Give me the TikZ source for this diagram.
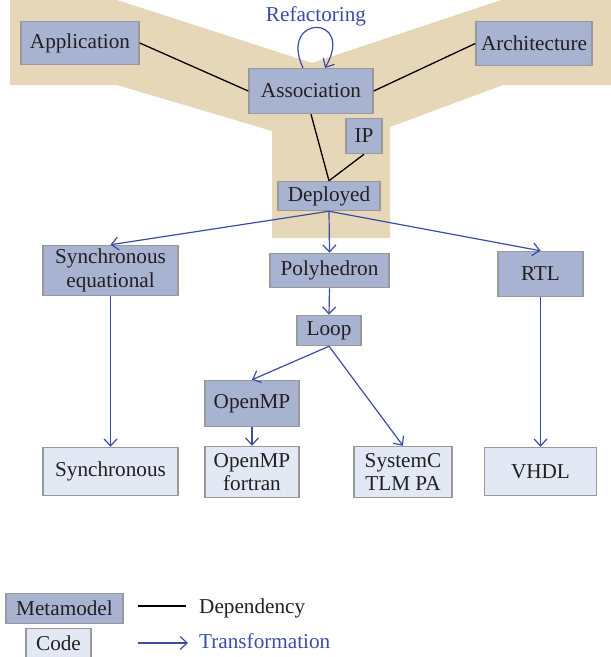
\documentclass[tikz,border=0pt]{standalone}
\usepackage{fontspec}
\setmainfont{Liberation Serif}
\usetikzlibrary{arrows.meta}
\definecolor{tan}{HTML}{E6D7B8}
\definecolor{meta}{HTML}{A8B3D1}
\definecolor{codec}{HTML}{E2E9F4}
\definecolor{bordc}{HTML}{999999}
\definecolor{blu}{HTML}{3A4CA8}
\definecolor{txt}{HTML}{231F20}
\tikzset{
  box/.style={draw=bordc, line width=1.5pt, inner sep=0pt, align=center, text=txt,
    font=\fontsize{21.2}{23.5}\selectfont},
  metabox/.style={box, fill=meta},
  codebox/.style={box, fill=codec},
  dep/.style={draw=black, line width=1.3pt},
  trans/.style={draw=blu, line width=1.2pt, -{Straight Barb[length=7pt,width=13pt,line width=1.2pt]}},
  lbl/.style={font=\fontsize{21.2}{23.5}\selectfont, inner sep=0pt}
}
\begin{document}
\begin{tikzpicture}[x=1pt,y=-1pt]
\useasboundingbox (0,0) rectangle (611,657);
% background
\fill[tan] (10,0) -- (117,0) -- (312,63) -- (501,0) -- (611,0) -- (611,85) -- (503,85)
  -- (390,127) -- (390,238) -- (272,238) -- (272,131) -- (117,85) -- (10,85) -- cycle;
% metamodel nodes
\node[metabox, minimum width=118pt, minimum height=43pt] (app) at (80,43) {Application};
\node[metabox, minimum width=124pt, minimum height=45pt] (assoc) at (311,91) {Association};
\node[metabox, minimum width=116pt, minimum height=44pt] (arch) at (534,43.5) {Architecture};
\node[metabox, minimum width=36pt, minimum height=35pt] (ip) at (364,136) {IP};
\node[metabox, minimum width=102pt, minimum height=29pt] (depl) at (329,196) {Deployed};
\node[metabox, minimum width=135pt, minimum height=50pt] (synceq) at (110.5,270.5) {Synchronous\\equational};
\node[metabox, minimum width=119pt, minimum height=34pt] (poly) at (329.5,270.5) {Polyhedron};
\node[metabox, minimum width=85pt, minimum height=45pt] (rtl) at (540.5,274) {RTL};
\node[metabox, minimum width=64pt, minimum height=30pt] (loop) at (329,330.5) {Loop};
\node[metabox, minimum width=94pt, minimum height=46pt] (openmp) at (252,403.5) {OpenMP};
% code nodes
\node[codebox, minimum width=94pt, minimum height=51pt] (ompf) at (252,472) {OpenMP\\fortran};
\node[codebox, minimum width=98pt, minimum height=51pt] (sysc) at (403,472) {SystemC\\TLM PA};
\node[codebox, minimum width=135pt, minimum height=48pt] (sync) at (110.5,471.5) {Synchronous};
\node[codebox, minimum width=112pt, minimum height=48pt] (vhdl) at (540.5,471.5) {VHDL};
% refactoring
\node[lbl, text=blu, anchor=base] (refac) at (316,21) {Refactoring};
\coordinate (rs) at (303,68);
\coordinate (re) at (325,68);
\draw[trans] (rs) .. controls (278,14) and (356,14) .. (re);
% dependencies
\draw[dep] (app.east) -- (assoc.west);
\draw[dep] (arch.west) -- (assoc.east);
\draw[dep] (assoc.south) -- (depl.north);
\draw[dep] (ip.south) -- (depl.north);
% transformations
\draw[trans] (depl.south) -- (synceq.north);
\draw[trans] (depl.south) -- (poly.north);
\draw[trans] (depl.south) -- (rtl.north);
\draw[trans] (poly.south) -- (loop.north);
\draw[trans] (loop.south) -- (openmp.north);
\draw[trans] (loop.south) -- (sysc.north);
\draw[trans] (openmp.south) -- (ompf.north);
\draw[trans] (synceq.south) -- (sync.north);
\draw[trans] (rtl.south) -- (vhdl.north);
% legend
\node[metabox, minimum width=117pt, minimum height=30pt] (lmeta) at (64.5,608.5) {Metamodel};
\node[codebox, minimum width=65pt, minimum height=29pt] (lcode) at (58.5,643) {Code};
\coordinate (d1) at (138,606);
\coordinate (d2) at (186,606);
\draw[dep] (d1) -- (d2);
\node[lbl, text=txt, anchor=base west] (ldep) at (199,613) {Dependency};
\coordinate (t1) at (138,643);
\coordinate (t2) at (188,643);
\draw[trans] (t1) -- (t2);
\node[lbl, text=blu, anchor=base west] (ltrans) at (199,648) {Transformation};
\end{tikzpicture}
\end{document}
